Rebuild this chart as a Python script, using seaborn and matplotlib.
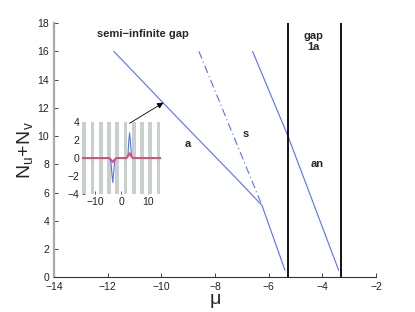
import numpy as np
import pandas as pd
import matplotlib
matplotlib.use("Agg")
import matplotlib.pyplot as plt
import seaborn as sns

# ---- data ----
a_mu = [-11.77, -9.4, -7.15, -6.25, -5.39]
a_N = [16.0, 11.3, 6.9, 5.1, 0.5]

s_mu = [-8.6, -6.25]
s_N = [16.0, 5.1]

an_mu = [-6.6, -5.28, -3.39]
an_N = [16.0, 10.0, 0.5]

gap_edges = [-5.28, -3.29]

inset_x_u = [-15, -4.6, -4.0, -3.6, -3.3, -3.0, -2.6, -2.1, 2.0, 2.5, 2.8, 3.1, 3.4, 3.8, 4.3, 15]
inset_u = [0, 0, -0.4, -1.8, -2.7, -1.8, -0.4, 0, 0, 0.4, 1.9, 2.8, 1.9, 0.4, 0, 0]
inset_x_v = [-15, -4.6, -3.9, -3.3, -2.7, -2.0, 2.0, 2.6, 3.1, 3.6, 4.3, 15]
inset_v = [0, 0, -0.2, -0.45, -0.2, 0, 0, 0.25, 0.55, 0.25, 0, 0]
lattice_period = np.pi

x_ticks = [-14, -12, -10, -8, -6, -4, -2]
y_ticks = [0, 2, 4, 6, 8, 10, 12, 14, 16, 18]

sns.set_style("ticks")
plt.rcParams["font.family"] = ["Liberation Sans", "DejaVu Sans"]
plt.rcParams["mathtext.fontset"] = "custom"
plt.rcParams["mathtext.rm"] = "Liberation Sans"
plt.rcParams["mathtext.it"] = "Liberation Sans"

BLUE = "#5470ff"
fig = plt.figure(figsize=(4.15, 3.12), dpi=100)
ax = fig.add_axes([0.130, 0.111, 0.776, 0.815])

sns.lineplot(x=a_mu, y=a_N, ax=ax, color=BLUE, lw=0.8, sort=False, estimator=None)
sns.lineplot(x=s_mu, y=s_N, ax=ax, color=BLUE, lw=0.8, ls=(0, (7, 3, 1, 3)), sort=False, estimator=None)
sns.lineplot(x=an_mu, y=an_N, ax=ax, color=BLUE, lw=0.8, sort=False, estimator=None)
for g in gap_edges:
    ax.axvline(g, color="black", lw=1.3)

ax.set_xlim(-14, -2)
ax.set_ylim(0, 18)
ax.set_xticks(x_ticks)
ax.set_yticks(y_ticks)
ax.set_xticklabels([f"\u2212{abs(t)}" if t < 0 else str(t) for t in x_ticks])
ax.tick_params(direction="in", length=3, width=0.6, labelsize=7.5, colors="#222222")
for sp in ["top", "right"]:
    ax.spines[sp].set_visible(False)
ax.spines["left"].set_color("#aaaaaa")
ax.spines["left"].set_linewidth(1.6)
ax.spines["bottom"].set_color("#333333")
ax.spines["bottom"].set_linewidth(0.8)

ax.set_xlabel(r"$\mathregular{\mu}$", fontsize=14, labelpad=0)
ax.set_ylabel(r"$\mathregular{N_u\!+\!N_v}$", fontsize=14, labelpad=2)

ax.text(-10.7, 17.24, "semi\u2212infinite gap", fontsize=8, fontweight="bold", ha="center", va="center")
ax.text(-4.32, 16.7, "gap\n1a", fontsize=8, fontweight="bold", ha="center", va="center", linespacing=1.1)
ax.text(-9.0, 9.45, "a", fontsize=8, fontweight="bold", ha="center", va="center")
ax.text(-6.84, 10.16, "s", fontsize=8, fontweight="bold", ha="center", va="center")
ax.text(-4.18, 8.0, "an", fontsize=8, fontweight="bold", ha="center", va="center")

ax.annotate("", xy=(-9.92, 12.37), xytext=(-11.18, 10.91),
            arrowprops=dict(arrowstyle="-|>", color="black", lw=0.6,
                            mutation_scale=9, shrinkA=0, shrinkB=0))

# ---- inset ----
ins = fig.add_axes([0.1976, 0.378, 0.190, 0.231])
for k in range(-5, 5):
    c = lattice_period / 2 + k * lattice_period
    ins.axvspan(c - 0.72, c + 0.72, color="#c8d0cc", lw=0)
sns.lineplot(x=inset_x_u, y=inset_u, ax=ins, color=BLUE, lw=0.8, sort=False, estimator=None)
sns.lineplot(x=inset_x_v, y=inset_v, ax=ins, color="#e2486a", lw=1.3, sort=False, estimator=None)
ins.set_xlim(-15, 15)
ins.set_ylim(-4, 4)
ins.set_xticks([-10, 0, 10])
ins.set_xticklabels(["\u221210", "0", "10"])
ins.set_yticks([-4, -2, 0, 2, 4])
ins.set_yticklabels(["\u22124", "\u22122", "0", "2", "4"])
ins.tick_params(direction="in", length=2, width=0.5, labelsize=7.5, colors="#222222", pad=2)
for sp in ins.spines.values():
    sp.set_visible(False)
ins.patch.set_alpha(0)

fig.savefig("out.png", dpi=100)
